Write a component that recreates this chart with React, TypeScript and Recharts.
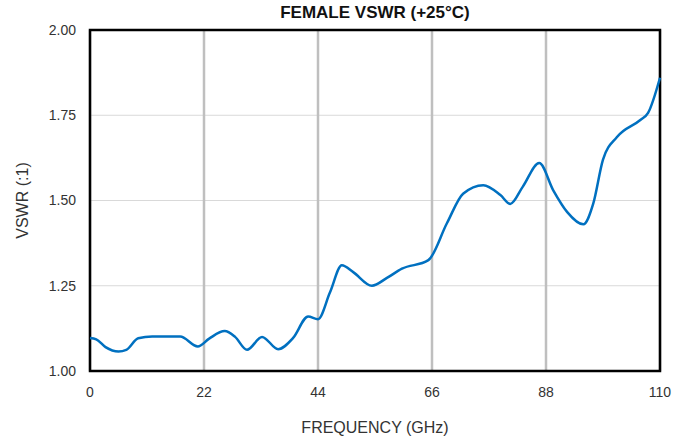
// FEMALE VSWR (+25°C) line chart
import React from 'react';
import {
  LineChart,
  Line,
  XAxis,
  YAxis,
  CartesianGrid,
  ReferenceArea,
  Label,
} from 'recharts';

const freqGHz = [
  0, 1.2, 3, 5.5, 7, 9.3, 12, 17.4, 20.8, 23, 26, 28, 30.3, 33.2, 36.3, 39.2, 42.1, 44,
  46.3, 48.6, 50.8, 54.4, 57.3, 60.2, 65.3, 68.9, 72, 75.9, 79.2, 81.1, 83.5, 86.7, 89.4,
  92.1, 95.2, 97.1, 99, 101.7, 106.2, 107.7, 110,
];
const vswr = [
  1.097, 1.093, 1.07, 1.057, 1.062, 1.096, 1.101, 1.101, 1.072, 1.095, 1.117, 1.1, 1.062, 1.1,
  1.064, 1.097, 1.16, 1.152, 1.23, 1.31, 1.29, 1.25, 1.273, 1.3, 1.325, 1.434, 1.52, 1.545,
  1.516, 1.49, 1.54, 1.61, 1.53, 1.466, 1.43, 1.49, 1.62, 1.686, 1.736, 1.757, 1.86,
];
const xTicks = [0, 22, 44, 66, 88, 110];
const yTicks = [1.0, 1.25, 1.5, 1.75, 2.0];

const data = freqGHz.map((f, i) => ({ f, v: vswr[i] }));

const FONT = "'Liberation Sans', Arial, sans-serif";
const tickStyle = { fill: '#333', fontSize: 14, fontFamily: FONT };

const YLabel = (props: any) => {
  const vb = props.viewBox || { x: 0, y: 0, width: 0, height: 0 };
  const cx = vb.x + 22;
  const cy = vb.y + vb.height / 2;
  return (
    <text
      x={cx}
      y={cy}
      transform={`rotate(-90, ${cx}, ${cy})`}
      textAnchor="middle"
      dominantBaseline="central"
      fill="#333"
      fontSize={16}
      fontFamily={FONT}
    >
      VSWR (:1)
    </text>
  );
};

export default function App() {
  return (
    <div style={{ position: 'absolute', left: 0, top: 0, width: 690, height: 439, background: '#fff' }}>
      <div
        style={{
          position: 'absolute',
          left: 90,
          top: 3,
          width: 570,
          textAlign: 'center',
          fontFamily: FONT,
          fontWeight: 'bold',
          fontSize: 17,
          color: '#111',
        }}
      >
        FEMALE VSWR (+25°C)
      </div>
      <LineChart width={690} height={439} data={data} margin={{ top: 30, right: 30, bottom: 0, left: 0 }}>
        <CartesianGrid vertical={false} stroke="#d9d9d9" strokeWidth={1} />
        <CartesianGrid horizontal={false} stroke="#bfbfbf" strokeWidth={2.5} />
        <XAxis
          dataKey="f"
          type="number"
          domain={[0, 110]}
          ticks={xTicks}
          tick={tickStyle}
          tickLine={false}
          axisLine={false}
          tickMargin={10}
          height={68}
        >
          <Label
            value="FREQUENCY  (GHz)"
            position="insideBottom"
            offset={6}
            style={{ fill: '#333', fontSize: 16, fontFamily: FONT, whiteSpace: 'pre' }}
          />
        </XAxis>
        <YAxis
          type="number"
          domain={[1, 2]}
          ticks={yTicks}
          tickFormatter={(v: number) => v.toFixed(2)}
          tick={tickStyle}
          tickLine={false}
          axisLine={false}
          tickMargin={8}
          width={90}
        >
          <Label content={<YLabel />} />
        </YAxis>
        <ReferenceArea x1={0} x2={110} y1={1} y2={2} fill="none" stroke="#000" strokeWidth={2.5} ifOverflow="visible" />
        <Line
          type="monotone"
          dataKey="v"
          stroke="#0070c0"
          strokeWidth={2.5}
          dot={false}
          isAnimationActive={false}
        />
      </LineChart>
    </div>
  );
}
